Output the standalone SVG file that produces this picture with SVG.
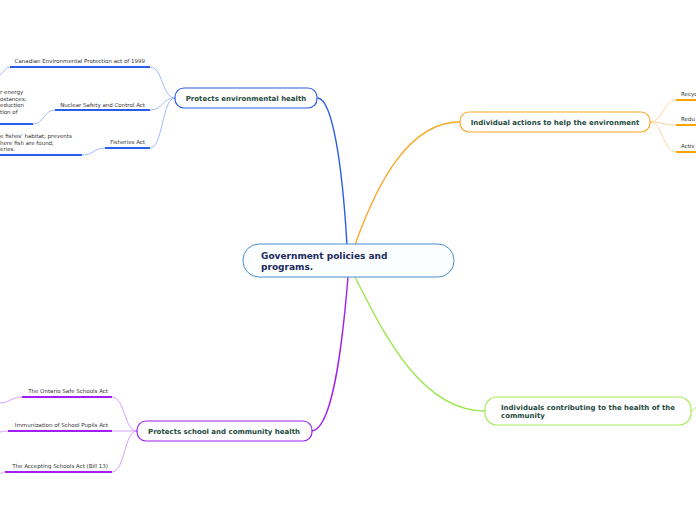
<svg xmlns="http://www.w3.org/2000/svg" width="696" height="520" viewBox="0 0 696 520">
<style>
.bg{fill:#ffffff}
.node{fill:#ffffff;stroke-width:1.2}
.nt{font-family:"DejaVu Sans",Verdana,sans-serif;font-weight:bold;font-size:7px;fill:#1d4a3c}
.ct{font-family:"DejaVu Sans",Verdana,sans-serif;font-weight:bold;font-size:9px;fill:#1c2a5c}
.lt{font-family:"DejaVu Sans",Verdana,sans-serif;font-size:5.5px;fill:#333333}
.main{fill:none;stroke-width:1.4;stroke-linecap:round}
.thin{fill:none;stroke-width:0.8}
.ul{fill:none;stroke-width:2}
</style>
<rect class="bg" x="0" y="0" width="696" height="520"/>
<g id="connectors">
  <path class="main" stroke="#2b5ee8" d="M347,245 C342,160 332,100 318,98"/>
  <path class="main" stroke="#f8a829" d="M355,245 C378,180 410,122 460,122"/>
  <path class="main" stroke="#9de653" d="M355,277 C382,330 420,411 485,411"/>
  <path class="main" stroke="#a020f0" d="M348,277 C342,350 332,431 311,431"/>
  <!-- env children -->
  <path class="thin" stroke="#8aa8ff" d="M175,98 C162,98 163,67 150,67"/>
  <path class="thin" stroke="#8aa8ff" d="M175,98 C162,98 163,110 150,110"/>
  <path class="thin" stroke="#8aa8ff" d="M175,98 C162,98 163,148 150,148"/>
  <path class="thin" stroke="#8aa8ff" d="M10,67 C4,67 4,75 -2,75"/>
  <path class="thin" stroke="#8aa8ff" d="M55,110 C44,110 44,124 33,124"/>
  <path class="thin" stroke="#8aa8ff" d="M105,148 C94,148 94,155 82,155"/>
  <path class="ul" stroke="#2b5ee8" d="M10,67 H150"/>
  <path class="ul" stroke="#2b5ee8" d="M55,110 H150"/>
  <path class="ul" stroke="#2b5ee8" d="M105,148 H150"/>
  <path class="ul" stroke="#2b5ee8" d="M-2,124 H33"/>
  <path class="ul" stroke="#2b5ee8" d="M-2,155 H82"/>
  <!-- orange children -->
  <path class="thin" stroke="#ffcc80" d="M650,122 C663,122 663,100 676,100"/>
  <path class="thin" stroke="#ffcc80" d="M650,122 C663,122 663,125 676,125"/>
  <path class="thin" stroke="#ffcc80" d="M650,122 C663,122 663,152 676,152"/>
  <path class="ul" stroke="#ffa500" d="M676,100 H698"/>
  <path class="ul" stroke="#ffa500" d="M676,125 H698"/>
  <path class="ul" stroke="#ffa500" d="M676,152 H698"/>
  <!-- green child -->
  <path class="thin" stroke="#9de653" d="M691,411 C694,411 694,407 698,407"/>
  <!-- purple children -->
  <path class="thin" stroke="#cc88ff" d="M137,431 C124,431 125,397 112,397"/>
  <path class="thin" stroke="#cc88ff" d="M137,431 C124,431 125,431 112,431"/>
  <path class="thin" stroke="#cc88ff" d="M137,431 C124,431 125,472 112,472"/>
  <path class="thin" stroke="#cc88ff" d="M22,397 C11,397 11,403 -2,403"/>
  <path class="thin" stroke="#cc88ff" d="M8,431 C4,431 3,432 -2,432"/>
  <path class="thin" stroke="#cc88ff" d="M5,472 C2,472 2,474 -2,474"/>
  <path class="ul" stroke="#a020f0" d="M22,397 H112"/>
  <path class="ul" stroke="#a020f0" d="M8,431 H112"/>
  <path class="ul" stroke="#a020f0" d="M5,472 H112"/>
</g>
<g id="central">
  <rect x="243" y="244" width="211" height="33" rx="16" fill="#fbfdff" stroke="#4a8fcf" stroke-width="1"/>
  <text class="ct" x="261" y="259">Government policies and</text>
  <text class="ct" x="261" y="270">programs.</text>
</g>
<g id="env">
  <rect class="node" x="175" y="88" width="142" height="20" rx="9" stroke="#2b5ee8"/>
  <text class="nt" x="246" y="100.5" text-anchor="middle">Protects environmental health</text>
</g>
<g id="env-leaf1"><text class="lt" x="145" y="63" text-anchor="end">Canadian Environmental Protection act of 1999</text></g>
<g id="env-leaf2"><text class="lt" x="145" y="107" text-anchor="end">Nuclear Safety and Control Act</text></g>
<g id="env-leaf3"><text class="lt" x="145" y="144" text-anchor="end">Fisheries Act</text></g>
<g id="env-leaf2-child">
  <text class="lt" x="0" y="94">r energy</text>
  <text class="lt" x="0" y="100.5">ostances;</text>
  <text class="lt" x="0" y="107">eduction</text>
  <text class="lt" x="0" y="113.5">tion of</text>
</g>
<g id="env-leaf3-child">
  <text class="lt" x="0" y="138">e fishes' habitat; prevents</text>
  <text class="lt" x="0" y="144.5">here fish are found;</text>
  <text class="lt" x="0" y="151">eries.</text>
</g>
<g id="individual">
  <rect class="node" x="460" y="112" width="190" height="20" rx="9" stroke="#f8a829"/>
  <text class="nt" x="555" y="124.5" text-anchor="middle">Individual actions to help the environment</text>
</g>
<g id="ind-leaf1"><text class="lt" x="681" y="96">Recyc</text></g>
<g id="ind-leaf2"><text class="lt" x="681" y="121">Redu</text></g>
<g id="ind-leaf3"><text class="lt" x="681" y="148">Activ</text></g>
<g id="community">
  <rect class="node" x="485" y="397" width="206" height="28" rx="12" stroke="#a6ec5c"/>
  <text class="nt" x="501" y="409.5">Individuals contributing to the health of the</text>
  <text class="nt" x="501" y="417.5">community</text>
</g>
<g id="school">
  <rect class="node" x="137" y="421" width="175" height="20" rx="9" stroke="#a020f0"/>
  <text class="nt" x="224" y="433.5" text-anchor="middle">Protects school and community health</text>
</g>
<g id="school-leaf1"><text class="lt" x="108" y="393" text-anchor="end">The Ontario Safe Schools Act</text></g>
<g id="school-leaf2"><text class="lt" x="108" y="427" text-anchor="end">Immunization of School Pupils Act</text></g>
<g id="school-leaf3"><text class="lt" x="108" y="468" text-anchor="end">The Accepting Schools Act (Bill 13)</text></g>
</svg>
